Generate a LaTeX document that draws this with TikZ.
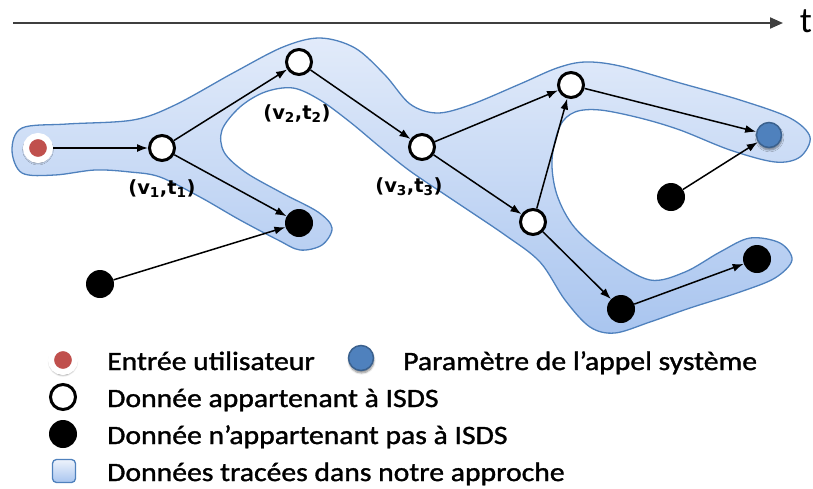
\documentclass[tikz,border=0pt]{standalone}
\usepackage{fontspec}
\setmainfont{Carlito}
\newfontfamily\labelfont{DejaVu Sans}
\newfontfamily\legendfont[FakeStretch=1.12,FakeBold=1.3]{Carlito}
\usetikzlibrary{arrows.meta,shadows.blur}

\definecolor{blobline}{HTML}{4F81BD}
\definecolor{blobtop}{HTML}{E2EBFA}
\definecolor{blobbot}{HTML}{A9C5EF}
\definecolor{inred}{HTML}{C0504D}
\definecolor{parblue}{HTML}{4F81BD}
\definecolor{axisgray}{HTML}{3F3F3F}

\tikzset{
  isds/.style={circle, draw=black, line width=3pt, fill=white, minimum size=25pt, inner sep=0pt},
  notisds/.style={circle, fill=black, minimum size=28pt, inner sep=0pt},
  userin/.style={circle, fill=inred, draw=white, line width=6pt, minimum size=24pt, inner sep=0pt,
    blur shadow={shadow xshift=0pt, shadow yshift=-1.5pt, shadow scale=1.1, shadow blur steps=7, shadow opacity=55}},
  param/.style={circle, fill=parblue, draw=parblue!75!black, line width=1.5pt, minimum size=25pt, inner sep=0pt,
    blur shadow={shadow xshift=0.5pt, shadow yshift=-2.5pt, shadow blur steps=6, shadow opacity=45}},
  legbox/.style={rectangle, rounded corners=4pt, draw=blobline, line width=1.3pt, top color=blobtop!60!white,
    bottom color=blobbot, minimum size=23pt, inner sep=0pt},
  blob/.style={draw=blobline, line width=1.3pt, top color=blobtop, bottom color=blobbot},
  flow/.style={-{Latex[length=11pt,width=8pt]}, line width=1.5pt},
  vlabel/.style={inner sep=0pt, font={\fontsize{19.5}{22}\selectfont\labelfont\bfseries}},
  legtext/.style={anchor=base west, inner sep=0pt, font={\fontsize{26.5}{30}\selectfont\legendfont}}
}

\begin{document}
\begin{tikzpicture}[x=1pt, y=-1pt]
\useasboundingbox (0,0) rectangle (813,488);
% time axis
\coordinate (t0) at (13,23);
\coordinate (t1) at (783,23);
\draw [axisgray, line width=2pt, -{Triangle[length=13pt,width=11pt]}] (t0) -- (t1);
\node [inner sep=0pt, font=\fontsize{36}{36}\selectfont] (tlab) at (806,21) {t};
% traced data
\draw [blob] plot [smooth cycle, tension=0.55] coordinates {
  (12,150) (22,128) (67,124) (133,120) (175,105) (233,73) (283,47) (320,38)
  (355,48) (385,75) (410,104) (437,113) (470,105) (520,84) (557,68) (585,62)
  (620,66) (680,83) (740,100) (790,118) (810,137) (800,157) (775,162) (730,150)
  (680,130) (640,118) (600,110) (575,112) (560,126) (552,160) (557,195) (575,228)
  (610,258) (650,280) (685,272) (720,252) (750,238) (780,243) (792,260) (775,278)
  (740,292) (690,308) (650,322) (615,333) (590,327) (565,300) (540,262) (505,235)
  (453,200) (410,171) (380,147) (350,122) (320,100) (293,88) (265,92) (240,107)
  (222,130) (224,152) (245,172) (282,193) (318,212) (332,228) (322,245) (300,250)
  (278,240) (240,220) (200,197) (160,177) (130,172) (95,170) (55,175) (22,173)};
% nodes
\node [userin] (uin) at (38,148) {};
\node [isds] (v1) at (162,148) {};
\node [isds] (v2) at (299,62) {};
\node [isds] (v3) at (422,147) {};
\node [isds] (v4) at (571,85) {};
\node [isds] (v5) at (533,222) {};
\node [notisds] (n1) at (299,223) {};
\node [notisds] (n2) at (100,284) {};
\node [notisds] (n3) at (671,197) {};
\node [notisds] (n4) at (621,309) {};
\node [notisds] (n5) at (757,259) {};
\node [param] (par) at (769,135) {};
\node [vlabel] (l1) at (162,189) {(v\textsubscript{1},t\textsubscript{1})};
\node [vlabel] (l2) at (297,114) {(v\textsubscript{2},t\textsubscript{2})};
\node [vlabel] (l3) at (409,187) {(v\textsubscript{3},t\textsubscript{3})};
% flows
\draw [flow] (uin) -- (v1);
\draw [flow] (v1) -- (v2);
\draw [flow] (v1) -- (n1);
\draw [flow] (n2) -- (n1);
\draw [flow] (v2) -- (v3);
\draw [flow] (v3) -- (v4);
\draw [flow] (v3) -- (v5);
\draw [flow] (v5) -- (v4);
\draw [flow] (v4) -- (par);
\draw [flow] (n3) -- (par);
\draw [flow] (v5) -- (n4);
\draw [flow] (n4) -- (n5);
% legend
\node [userin] (kin) at (63,360) {};
\node [legtext] (kintxt) at (107,370) {Entrée utilisateur};
\node [param] (kpar) at (361,358) {};
\node [legtext] (kpartxt) at (403,370) {Paramètre de l’appel système};
\node [isds] (kisds) at (63,397) {};
\node [legtext] (kisdstxt) at (107,407) {Donnée appartenant à ISDS};
\node [notisds] (knot) at (63,434) {};
\node [legtext] (knottxt) at (107,444) {Donnée n’appartenant pas à ISDS};
\node [legbox] (kbox) at (64,471) {};
\node [legtext] (kboxtxt) at (107,481) {Données tracées dans notre approche};
\end{tikzpicture}
\end{document}
